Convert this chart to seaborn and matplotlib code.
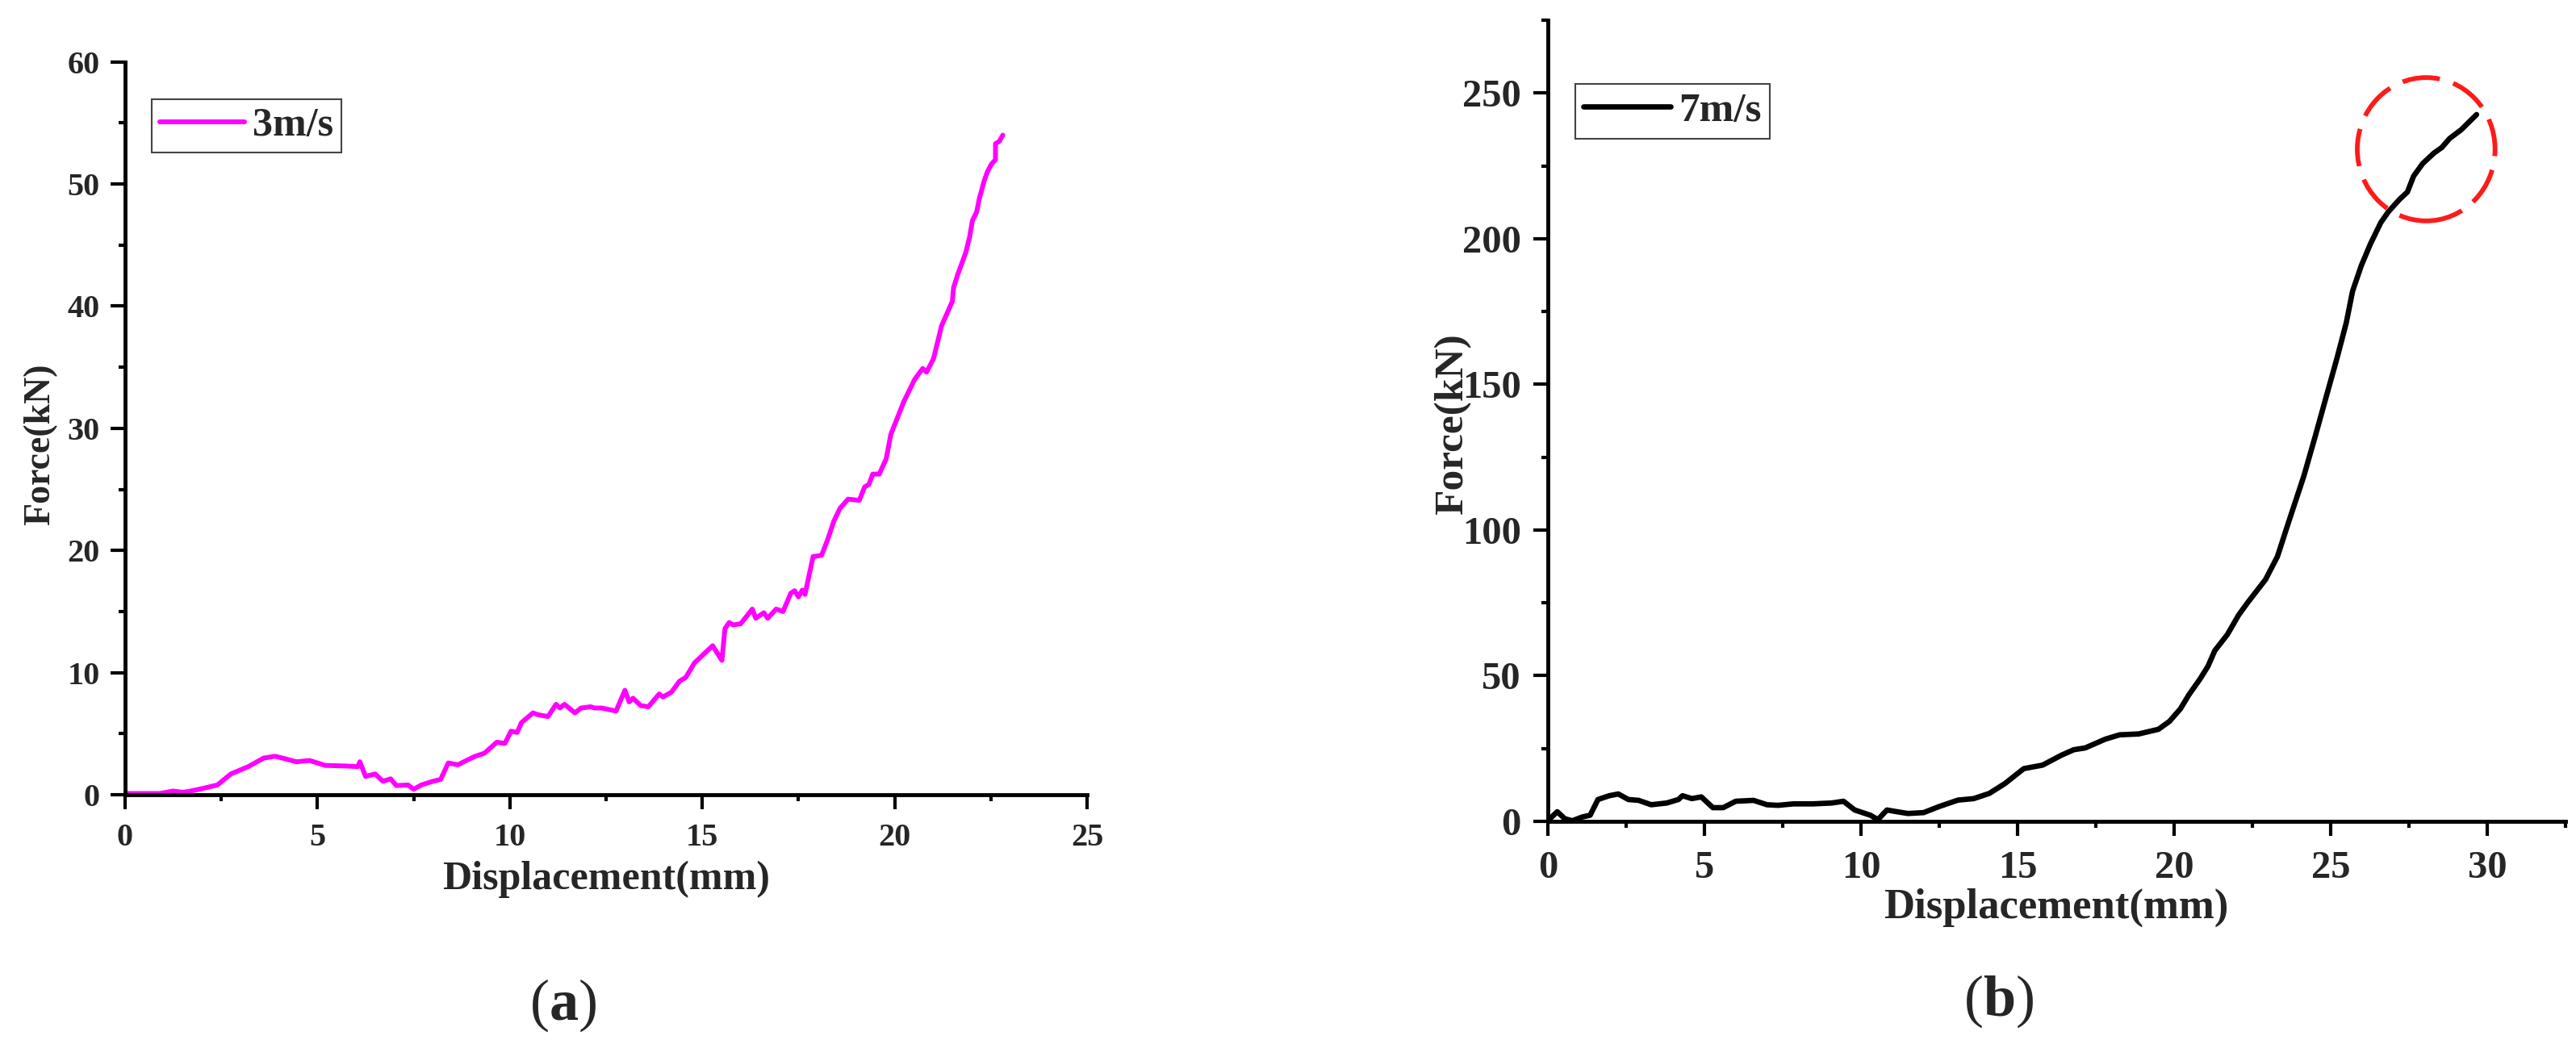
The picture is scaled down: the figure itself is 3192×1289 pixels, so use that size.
import numpy as np
import pandas as pd
import matplotlib
matplotlib.use("Agg")
import matplotlib.pyplot as plt
import seaborn as sns
from matplotlib.patches import Ellipse
from matplotlib.ticker import MultipleLocator

# ---------------- data ----------------
disp_3ms = [0, 0.5, 0.9, 1.25, 1.5, 1.7, 2.0, 2.4, 2.75, 3.2,
            3.6, 3.9, 4.15, 4.45, 4.8, 5.2, 5.75, 6.05, 6.1, 6.25,
            6.5, 6.7, 6.9, 7.05, 7.35, 7.5, 7.7, 8.0, 8.2, 8.4,
            8.65, 8.9, 9.1, 9.34, 9.66, 9.87, 10.03, 10.19, 10.3, 10.6,
            10.73, 10.99, 11.2, 11.3, 11.42, 11.69, 11.85, 12.1, 12.2, 12.38,
            12.76, 12.99, 13.1, 13.2, 13.4, 13.6, 13.88, 13.98, 14.2, 14.41,
            14.57, 14.8, 15.27, 15.51, 15.59, 15.7, 15.8, 16.0, 16.3, 16.39,
            16.6, 16.7, 16.92, 17.1, 17.3, 17.4, 17.5, 17.6, 17.67, 17.88,
            18.1, 18.26, 18.42, 18.58, 18.79, 19.08, 19.22, 19.33, 19.43, 19.6,
            19.78, 19.9, 20.24, 20.52, 20.73, 20.83, 21.01, 21.22, 21.5, 21.53,
            21.64, 21.85, 21.95, 22.02, 22.13, 22.2, 22.27, 22.32, 22.41, 22.51,
            22.62, 22.62, 22.72, 22.81]
force_3ms = [0.1, 0.1, 0.1, 0.3, 0.2, 0.3, 0.5, 0.8, 1.7, 2.3,
             3.0, 3.15, 2.95, 2.7, 2.8, 2.4, 2.35, 2.3, 2.7, 1.5,
             1.7, 1.1, 1.3, 0.75, 0.8, 0.45, 0.8, 1.1, 1.25, 2.6,
             2.45, 2.85, 3.15, 3.4, 4.3, 4.2, 5.2, 5.1, 5.9, 6.7,
             6.55, 6.4, 7.4, 7.1, 7.4, 6.7, 7.1, 7.2, 7.1, 7.1,
             6.85, 8.55, 7.6, 7.9, 7.3, 7.2, 8.25, 8.0, 8.4, 9.3,
             9.6, 10.8, 12.2, 11.0, 13.6, 14.1, 13.9, 14.0, 15.2, 14.45,
             14.9, 14.45, 15.2, 15.0, 16.5, 16.7, 16.2, 16.75, 16.4, 19.5,
             19.6, 20.9, 22.4, 23.45, 24.2, 24.1, 25.2, 25.4, 26.25, 26.25,
             27.5, 29.5, 32.2, 34.0, 34.9, 34.6, 35.7, 38.4, 40.4, 41.5,
             42.6, 44.4, 45.7, 47.0, 47.7, 48.8, 49.6, 50.2, 51.0, 51.6,
             52.0, 53.3, 53.5, 54.0]

disp_7ms = [0, 0.3, 0.54, 0.78, 1.1, 1.35, 1.6, 1.96, 2.25, 2.57,
            2.9, 3.3, 3.8, 4.17, 4.3, 4.6, 4.9, 5.27, 5.6, 6.0,
            6.57, 7.0, 7.35, 7.84, 8.46, 9.07, 9.44, 9.8, 10.3, 10.54,
            10.83, 11.15, 11.5, 12.0, 12.5, 13.1, 13.6, 14.1, 14.6, 15.2,
            15.8, 16.4, 16.8, 17.16, 17.8, 18.26, 18.87, 19.5, 19.85, 20.2,
            20.47, 20.83, 21.08, 21.3, 21.7, 22.06, 22.35, 22.92, 23.3, 23.65,
            24.14, 24.5, 24.88, 25.2, 25.5, 25.7, 25.98, 26.27, 26.6, 26.84,
            27.2, 27.45, 27.65, 27.94, 28.3, 28.55, 28.8, 29.17, 29.66]
force_7ms = [0.2, 3.3, 0.9, 0.2, 1.5, 2.1, 7.5, 8.8, 9.4, 7.5,
             7.2, 5.7, 6.3, 7.5, 8.8, 7.8, 8.4, 4.7, 4.7, 6.9,
             7.2, 5.7, 5.5, 6.0, 6.0, 6.3, 6.9, 3.9, 2.1, 0.6,
             3.9, 3.3, 2.7, 3.0, 5.1, 7.3, 7.8, 9.6, 13.0, 18.1,
             19.3, 22.7, 24.6, 25.2, 28.2, 29.7, 30.0, 31.6, 34.3, 38.6,
             43.4, 48.9, 53.2, 58.6, 64.1, 70.8, 75.1, 83.0, 90.9, 102.5,
             118.4, 131.9, 146.6, 158.9, 171.2, 182.0, 190.8, 198.2, 205.5, 209.2,
             213.5, 216.0, 221.5, 225.8, 229.4, 231.3, 234.4, 237.4, 242.6]

labels = ["3m/s", "7m/s"]
panel_tags = ["a", "b"]
x_label = "Displacement(mm)"
y_label = "Force(kN)"

# ---------------- style ----------------
sns.set_theme(style="white")
plt.rcParams["font.family"] = ["Liberation Serif", "DejaVu Serif"]
plt.rcParams["font.weight"] = "bold"
plt.rcParams["mathtext.fontset"] = "custom"
plt.rcParams["mathtext.rm"] = "Liberation Serif"
plt.rcParams["mathtext.bf"] = "Liberation Serif:bold"

W, H = 3192, 1289
fig = plt.figure(figsize=(W / 100, H / 100), dpi=100)
fig.patch.set_facecolor("white")

def px_axes(x0, y_top, x1, y_bot):
    return [x0 / W, 1 - y_bot / H, (x1 - x0) / W, (y_bot - y_top) / H]

ax1 = fig.add_axes(px_axes(155, 76.7, 1347, 985))
ax2 = fig.add_axes(px_axes(1918, 25, 3179, 1018))

df1 = pd.DataFrame({"d": disp_3ms, "f": force_3ms, "s": labels[0]})
df2 = pd.DataFrame({"d": disp_7ms, "f": force_7ms, "s": labels[1]})

sns.lineplot(data=df1, x="d", y="f", hue="s", palette=["#ff00ff"], ax=ax1,
             estimator=None, sort=False, linewidth=4.3)
sns.lineplot(data=df2, x="d", y="f", hue="s", palette=["#000000"], ax=ax2,
             estimator=None, sort=False, linewidth=4.8)

def style_axis(ax, xlim, ylim, xmaj, ymaj, ymin, tsize, pad_x, pad_y):
    ax.set_xlim(*xlim)
    ax.set_ylim(*ylim)
    ax.xaxis.set_major_locator(MultipleLocator(xmaj))
    ax.xaxis.set_minor_locator(MultipleLocator(xmaj / 2))
    ax.yaxis.set_major_locator(MultipleLocator(ymaj))
    ax.yaxis.set_minor_locator(MultipleLocator(ymin))
    for side in ["top", "right"]:
        ax.spines[side].set_visible(False)
    for side in ["left", "bottom"]:
        ax.spines[side].set_linewidth(3.5)
        ax.spines[side].set_color("black")
    ax.tick_params(axis="both", which="major", direction="out", length=13,
                   width=3, color="black", labelsize=tsize, left=True, bottom=True)
    ax.tick_params(axis="both", which="minor", direction="out", length=6,
                   width=3, color="black", left=True, bottom=True)
    ax.tick_params(axis="x", which="major", pad=pad_x)
    ax.tick_params(axis="y", which="major", pad=pad_y)
    for t in ax.get_xticklabels() + ax.get_yticklabels():
        t.set_fontweight("bold")
    ax.set_facecolor("white")
    ax.grid(False)

style_axis(ax1, (0, 25), (0, 60), 5, 10, 5, 29, 12, 9.5)
style_axis(ax2, (0, 32.5), (0, 275), 5, 50, 25, 35, 13, 11)

# axis labels
ax1.set_xlabel(x_label, fontsize=36, fontweight="bold", va="center", ha="center")
ax1.xaxis.set_label_coords(751 / W, 1 - 1090 / H, transform=fig.transFigure)
ax1.set_ylabel(y_label, fontsize=33, fontweight="bold", va="center", ha="center")
ax1.yaxis.set_label_coords(50 / W, 1 - 551 / H, transform=fig.transFigure)

ax2.set_xlabel(x_label, fontsize=38, fontweight="bold", va="center", ha="center")
ax2.xaxis.set_label_coords(2548 / W, 1 - 1125 / H, transform=fig.transFigure)
ax2.set_ylabel(y_label, fontsize=37, fontweight="bold", va="center", ha="center")
ax2.yaxis.set_label_coords(1800 / W, 1 - 526 / H, transform=fig.transFigure)

# legends
for ax, (lx, ly), fs in [(ax1, (188, 123), 36), (ax2, (1952, 104), 37)]:
    leg = ax.legend(loc="upper left", bbox_to_anchor=(lx / W, 1 - ly / H),
                    bbox_transform=fig.transFigure, borderaxespad=0,
                    prop={"family": "Liberation Serif", "weight": "bold", "size": fs},
                    frameon=True, fancybox=False, handlelength=2.1,
                    handletextpad=0.2, borderpad=0.2, title=None)
    leg.get_frame().set_edgecolor("#444444")
    leg.get_frame().set_linewidth(1.5)
    leg.get_frame().set_facecolor("white")
    leg.get_frame().set_alpha(1)

# red dashed highlight ellipse
ell = Ellipse((28.05, 230.7), 4.4, 49.2, fill=False, edgecolor="#ff1a1a",
              linewidth=4.2, linestyle=(0, (8, 3)), clip_on=False, zorder=5)
ax2.add_patch(ell)

# panel tags
fig.text(698 / W, 1 - 1246 / H, r"($\mathbf{%s}$)" % panel_tags[0], fontsize=52,
         fontweight="normal", ha="center", va="center")
fig.text(2477 / W, 1 - 1241 / H, r"($\mathbf{%s}$)" % panel_tags[1], fontsize=52,
         fontweight="normal", ha="center", va="center")

fig.savefig("out.png", dpi=100, facecolor="white")
